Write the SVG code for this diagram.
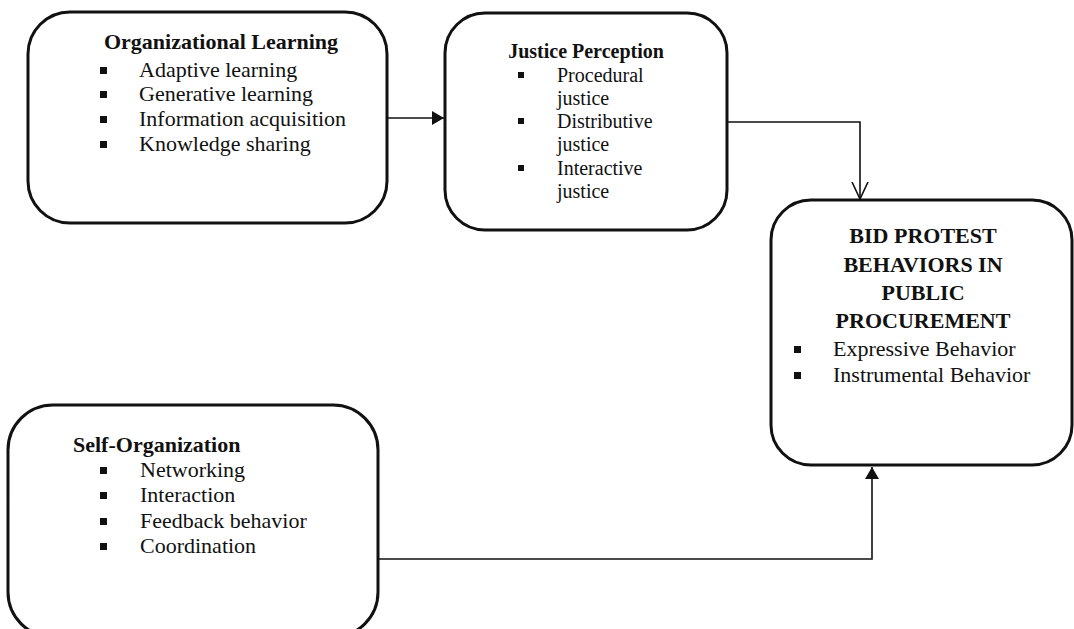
<svg xmlns="http://www.w3.org/2000/svg" width="1074" height="629" viewBox="0 0 1074 629">
<defs>
<style>
.box{fill:#fff;stroke:#111;stroke-width:3}
.t{font-family:"Liberation Serif","Times New Roman",serif;fill:#111}
.h{font-weight:bold}
.b{fill:#111}
.c{fill:none;stroke:#111;stroke-width:1.6}
</style>
<marker id="fill" markerWidth="12" markerHeight="14" refX="12" refY="7" orient="auto" markerUnits="userSpaceOnUse">
<path d="M0,0 L12,7 L0,14 Z" fill="#111"/>
</marker>
<marker id="open" markerWidth="18" markerHeight="20" refX="17" refY="9" orient="auto" markerUnits="userSpaceOnUse">
<path d="M0,1 L17,9 L0,17" fill="none" stroke="#111" stroke-width="1.6"/>
</marker>
</defs>
<rect width="1074" height="629" fill="#fff"/>
<g id="connectors">
<path class="c" d="M387,118 H444" marker-end="url(#fill)"/>
<path class="c" d="M727,122 H860 V199" marker-end="url(#open)"/>
<path class="c" d="M378,559 H872 V467" marker-end="url(#fill)"/>
</g>
<g id="organizational-learning">
<rect class="box" x="28" y="12" width="359" height="211" rx="42"/>
<text class="t h" x="221" y="49" font-size="22" text-anchor="middle">Organizational Learning</text>
<rect class="b" x="100" y="67" width="7" height="7"/>
<rect class="b" x="100" y="91" width="7" height="7"/>
<rect class="b" x="100" y="116" width="7" height="7"/>
<rect class="b" x="100" y="141" width="7" height="7"/>
<text class="t" x="139" font-size="22"><tspan x="139" y="77">Adaptive learning</tspan><tspan x="139" y="101">Generative learning</tspan><tspan x="139" y="126">Information acquisition</tspan><tspan x="139" y="151">Knowledge sharing</tspan></text>
</g>
<g id="justice-perception">
<rect class="box" x="445" y="13" width="282" height="217" rx="40"/>
<text class="t h" x="586" y="58" font-size="20" text-anchor="middle">Justice Perception</text>
<rect class="b" x="518" y="72" width="6" height="6"/>
<rect class="b" x="518" y="118" width="6" height="6"/>
<rect class="b" x="518" y="165" width="6" height="6"/>
<text class="t" font-size="20"><tspan x="557" y="82">Procedural</tspan><tspan x="557" y="105">justice</tspan><tspan x="557" y="128">Distributive</tspan><tspan x="557" y="151">justice</tspan><tspan x="557" y="175">Interactive</tspan><tspan x="557" y="198">justice</tspan></text>
</g>
<g id="bid-protest">
<rect class="box" x="771" y="200" width="301" height="265" rx="40"/>
<text class="t h" font-size="22" text-anchor="middle"><tspan x="923" y="243">BID PROTEST</tspan><tspan x="923" y="272">BEHAVIORS IN</tspan><tspan x="923" y="300">PUBLIC</tspan><tspan x="923" y="328">PROCUREMENT</tspan></text>
<rect class="b" x="794" y="346" width="7" height="7"/>
<rect class="b" x="794" y="372" width="7" height="7"/>
<text class="t" font-size="22"><tspan x="833" y="356">Expressive Behavior</tspan><tspan x="833" y="382">Instrumental Behavior</tspan></text>
</g>
<g id="self-organization">
<rect class="box" x="8" y="405" width="370" height="232" rx="45"/>
<text class="t h" x="73" y="452" font-size="22">Self-Organization</text>
<rect class="b" x="100" y="467" width="7" height="7"/>
<rect class="b" x="100" y="492" width="7" height="7"/>
<rect class="b" x="100" y="518" width="7" height="7"/>
<rect class="b" x="100" y="543" width="7" height="7"/>
<text class="t" font-size="22"><tspan x="140" y="477">Networking</tspan><tspan x="140" y="502">Interaction</tspan><tspan x="140" y="528">Feedback behavior</tspan><tspan x="140" y="553">Coordination</tspan></text>
</g>
</svg>
